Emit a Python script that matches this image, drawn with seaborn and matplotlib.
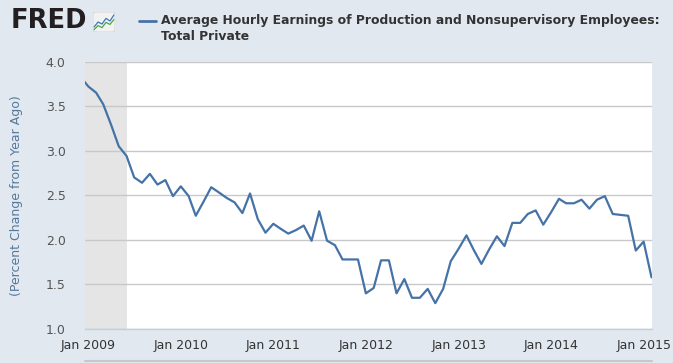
import numpy as np
import pandas as pd
import matplotlib
matplotlib.use("Agg")
import matplotlib.pyplot as plt
from matplotlib.lines import Line2D
from matplotlib.patches import FancyBboxPatch
import seaborn as sns

# monthly values, Dec 2008 (clipped at the left edge) through Feb 2015
start = "2008-12-01"
pct_change = [
    3.83,
    # 2009
    3.72, 3.65, 3.52, 3.29, 3.05, 2.94, 2.70, 2.64, 2.74, 2.62, 2.67, 2.49,
    # 2010
    2.60, 2.49, 2.27, 2.43, 2.59, 2.53, 2.47, 2.42, 2.30, 2.52, 2.23, 2.08,
    # 2011
    2.18, 2.12, 2.07, 2.11, 2.16, 1.99, 2.32, 1.99, 1.94, 1.78, 1.78, 1.78,
    # 2012
    1.40, 1.46, 1.77, 1.77, 1.40, 1.56, 1.35, 1.35, 1.45, 1.29, 1.45, 1.76,
    # 2013
    1.90, 2.05, 1.89, 1.73, 1.89, 2.04, 1.93, 2.19, 2.19, 2.29, 2.33, 2.17,
    # 2014
    2.31, 2.46, 2.41, 2.41, 2.45, 2.35, 2.45, 2.49, 2.29, 2.28, 2.27, 1.88,
    # 2015
    1.98, 1.58,
]
tick_years = [2009, 2010, 2011, 2012, 2013, 2014, 2015]
y_ticks = [1.0, 1.5, 2.0, 2.5, 3.0, 3.5, 4.0]
recession = ("2007-12-01", "2009-06-01")

# tiny logo squiggles
logo_blue = [0.25, 0.5, 0.4, 0.68, 0.55, 0.85]
logo_green = [0.12, 0.32, 0.22, 0.48, 0.38, 0.62]

df = pd.DataFrame({
    "date": pd.date_range(start, periods=len(pct_change), freq="MS"),
    "value": pct_change,
})

bg = "#E1E8F0"
line_col = "#4572A7"

sns.set_theme(style="white")
plt.rcParams["font.family"] = ["DejaVu Sans"]

fig = plt.figure(figsize=(6.73, 3.63), dpi=100, facecolor=bg)
ax = fig.add_axes([85 / 673, 1 - 329 / 363, (652 - 85) / 673, (329 - 61.5) / 363])
ax.set_facecolor("white")

ax.axvspan(pd.Timestamp(recession[0]), pd.Timestamp(recession[1]),
           color="#E5E5E5", lw=0, zorder=0)
for y in y_ticks:
    ax.axhline(y, color="#C8C8C8", lw=1, zorder=1)

sns.lineplot(data=df, x="date", y="value", ax=ax, color=line_col,
             linewidth=1.6, zorder=3)

ax.set_xlim(pd.Timestamp("2008-12-19"), pd.Timestamp("2015-02-03"))
ax.set_ylim(1.0, 4.0)
ax.set_yticks(y_ticks)
ax.set_yticklabels([f"{v:.1f}" for v in y_ticks])
ax.set_xticks([pd.Timestamp(f"{y}-01-01") for y in tick_years])
ax.set_xticklabels([f"Jan {y}" for y in tick_years])

for s in ["top", "right", "left"]:
    ax.spines[s].set_visible(False)
ax.spines["bottom"].set_color("#C0D0E0")
ax.spines["bottom"].set_linewidth(1)
ax.tick_params(axis="x", colors="#C0D0E0", length=6, width=1, direction="out",
               labelcolor="#333333", labelsize=9, pad=1)
ax.tick_params(axis="y", length=0, labelcolor="#555555", labelsize=9, pad=14)
ax.set_xlabel("")
ax.set_ylabel("(Percent Change from Year Ago)", color="#56789A", fontsize=9)
ax.yaxis.set_label_coords(-62 / 567, 0.5)

# header: FRED logo and legend title
fig.text(11 / 673, 1 - 21.5 / 363, "FRED", fontsize=18.5, fontweight="heavy",
         color="#231F20", va="center", ha="left")
logo = fig.add_axes([93 / 673, 1 - 32 / 363, 22 / 673, 20 / 363])
logo.axis("off")
logo.add_patch(FancyBboxPatch((0, 0), 1, 1, boxstyle="round,pad=0,rounding_size=0.12",
                              transform=logo.transAxes, fc="#F2F2F2", ec="#D0D0D0",
                              lw=0.6, zorder=0))
logo.plot(np.linspace(0.05, 0.95, len(logo_blue)), logo_blue, color="#3A78B8", lw=0.9)
logo.plot(np.linspace(0.05, 0.95, len(logo_green)), logo_green, color="#4CA64C", lw=0.9)
logo.set_xlim(0, 1)
logo.set_ylim(0, 1)

fig.add_artist(Line2D([139 / 673, 156 / 673], [1 - 20.5 / 363] * 2,
                      color=line_col, lw=2))
fig.text(161 / 673, 1 - 20.5 / 363,
         "Average Hourly Earnings of Production and Nonsupervisory Employees:",
         fontsize=8.9, fontweight="bold", color="#333333", va="center")
fig.text(161 / 673, 1 - 36.5 / 363, "Total Private",
         fontsize=8.9, fontweight="bold", color="#333333", va="center")

fig.add_artist(Line2D([85 / 673, 652 / 673], [1 - 361 / 363] * 2,
                      color="#C8C8C8", lw=1.5))

fig.savefig("out.png", dpi=100, facecolor=bg)
